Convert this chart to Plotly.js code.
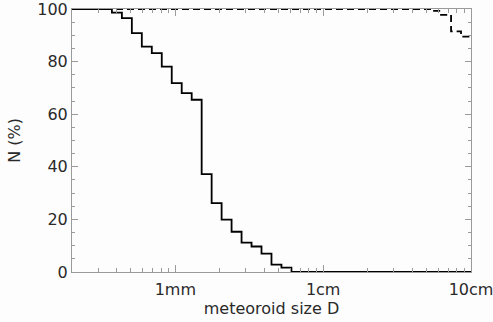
<!DOCTYPE html>
<html>
<head>
<meta charset="utf-8">
<script src="https://cdn.plot.ly/plotly-3.0.1.min.js"></script>
<style>html,body{margin:0;padding:0;background:#fdfdfd;}#chart{width:493px;height:322px;}</style>
</head>
<body>
<div id="chart"></div>
<script>
// Meteoroid size D (mm): left edges of the histogram bins, plus the final right edge
const solidSizes = [0.2, 0.3724, 0.435, 0.508, 0.5934, 0.6932, 0.8096, 0.9456, 1.1045, 1.2901,
                    1.507, 1.7603, 2.0561, 2.4015, 2.8052, 3.2766, 3.8272, 4.4704, 5.2218, 6.099, 100];
// N (%) for the solid step curve
const solidN = [100, 98.6, 96.5, 90.8, 85.7, 83.2, 78.1, 71.8, 68.0, 65.5,
                37.2, 26.2, 19.9, 15.3, 11.2, 9.7, 7.0, 2.8, 1.7, 0, 0];
// Dashed step curve
const dashedSizes = [0.2, 53.7, 62.7, 73.3, 85.6, 100];
const dashedN = [100, 99.3, 97.8, 91.5, 89.5, 89.5];

// Axis ticks
const xTickVals = [1, 10, 100];
const xTickText = ['1mm', '1cm', '10cm'];
const xMinorVals = [0.2, 0.3, 0.4, 0.5, 0.6, 0.7, 0.8, 0.9, 2, 3, 4, 5, 6, 7, 8, 9, 20, 30, 40, 50, 60, 70, 80, 90];
const yTickVals = [0, 20, 40, 60, 80, 100];

const traces = [
  {x: solidSizes, y: solidN, type: 'scatter', mode: 'lines', line: {shape: 'hv', color: '#000', width: 1.8}, cliponaxis: false},
  {x: dashedSizes, y: dashedN, type: 'scatter', mode: 'lines', line: {shape: 'hv', color: '#000', width: 1.8, dash: '7px,4px'}, cliponaxis: false}
];

const axisCommon = {
  showline: true, linecolor: '#9a9a9a', linewidth: 1, mirror: 'ticks',
  ticks: 'inside', tickcolor: '#9a9a9a', zeroline: false, showgrid: false,
  ticklabeloverflow: 'allow',
  tickfont: {family: 'DejaVu Sans', size: 16, color: '#2a2a2a'}
};

const layout = {
  width: 493, height: 322,
  margin: {l: 72, r: 22, t: 9, b: 50},
  paper_bgcolor: '#fdfdfd', plot_bgcolor: '#fdfdfd',
  showlegend: false,
  xaxis: Object.assign({}, axisCommon, {
    type: 'log', range: [Math.log10(0.2), 2],
    tickmode: 'array', tickvals: xTickVals, ticktext: xTickText, ticklen: 7,
    ticklabelstandoff: 3,
    minor: {tickmode: 'array', tickvals: xMinorVals, ticks: 'inside', ticklen: 4, tickcolor: '#9a9a9a', showgrid: false},
    title: {text: 'meteoroid size D', font: {family: 'DejaVu Sans', size: 16, color: '#2a2a2a'}, standoff: 3}
  }),
  yaxis: Object.assign({}, axisCommon, {
    range: [0, 100],
    tickmode: 'array', tickvals: yTickVals, ticklen: 6,
    minor: {dtick: 5, ticks: 'inside', ticklen: 3, tickcolor: '#9a9a9a', showgrid: false},
    title: {text: 'N (%)', font: {family: 'DejaVu Sans', size: 16, color: '#2a2a2a'}, standoff: 12}
  })
};

Plotly.newPlot('chart', traces, layout, {displayModeBar: false, staticPlot: true});
</script>
</body>
</html>
